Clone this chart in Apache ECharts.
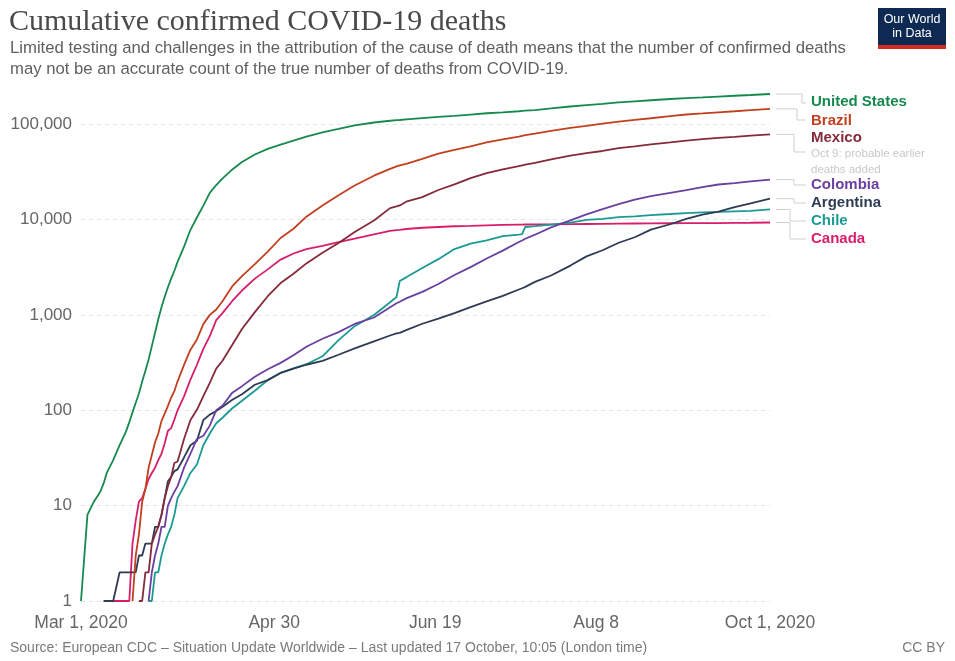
<!DOCTYPE html>
<html>
<head>
<meta charset="utf-8">
<script src="https://cdn.jsdelivr.net/npm/echarts@6/dist/echarts.min.js"></script>
<style>
html,body{margin:0;padding:0;background:#fff;}
#chart{width:955px;height:661px;}
</style>
</head>
<body>
<div id="chart"></div>
<script>
// ---------- DATA ----------
const dates = [
 '2020-03-01','2020-03-03','2020-03-05','2020-03-07','2020-03-08','2020-03-09','2020-03-11','2020-03-13','2020-03-15','2020-03-16',
 '2020-03-17','2020-03-18','2020-03-19','2020-03-20','2020-03-21','2020-03-22','2020-03-23','2020-03-24','2020-03-25','2020-03-26',
 '2020-03-27','2020-03-28','2020-03-29','2020-03-30','2020-03-31',
 '2020-04-02','2020-04-04','2020-04-06','2020-04-08','2020-04-10','2020-04-12','2020-04-14','2020-04-17','2020-04-20','2020-04-24','2020-04-28',
 '2020-05-02','2020-05-06','2020-05-10','2020-05-15','2020-05-20','2020-05-25','2020-05-31',
 '2020-06-05','2020-06-07','2020-06-08','2020-06-10','2020-06-15','2020-06-20','2020-06-25','2020-06-30',
 '2020-07-05','2020-07-10','2020-07-15','2020-07-16','2020-07-17','2020-07-20','2020-07-25','2020-07-31',
 '2020-08-05','2020-08-10','2020-08-15','2020-08-20','2020-08-25','2020-08-31',
 '2020-09-05','2020-09-10','2020-09-15','2020-09-20','2020-09-25','2020-10-01'
];

const unitedStates = [
 1,8,11,14,17,22,30,43,60,75,
 95,120,150,200,260,340,470,650,900,1200,
 1550,1950,2400,2900,3600,
 5200,7800,10500,14000,19000,23000,27000,33500,40000,48000,55000,
 61000,67000,74000,82000,89000,97000,104000,
 108500,110000,110500,112000,115500,119000,122000,126000,
 130000,133000,136500,137500,138500,140500,146000,153000,
 158000,163000,169000,173500,178000,183500,
 187500,190500,194500,198500,202000,207000
];
const brazil = [
 null,null,null,null,null,null,null,null,null,null,
 1,3,5,11,15,25,34,46,57,77,
 92,111,136,159,201,
 299,432,553,800,1000,1140,1400,2000,2550,3400,4600,
 6400,8000,10700,14000,18000,22700,28800,
 34000,36000,37000,38400,43300,49100,53800,58300,
 64300,69200,74100,75400,76700,79500,85200,91300,
 95800,101000,106500,111100,115300,121400,
 126200,129500,133100,136500,140500,144700
];
const mexico = [
 null,null,null,null,null,null,null,null,null,null,
 null,null,1,1,2,2,4,5,6,8,
 12,16,20,28,29,
 50,79,101,141,194,273,332,486,712,1069,1569,
 2154,2704,3465,4477,5666,7394,9779,
 13170,13699,14053,15357,17141,20394,23377,27121,
 30639,33526,36327,36906,37574,39184,42645,46688,
 49698,52298,55908,58481,61450,64414,
 67326,69649,71678,73493,75844,78078
];
const colombia = [
 null,null,null,null,null,null,null,null,null,null,
 null,null,null,null,null,1,2,3,4,6,
 6,10,12,14,16,
 25,35,50,54,69,100,112,153,179,225,269,
 314,378,463,562,659,803,939,
 1205,1323,1374,1488,1744,2106,2620,3166,
 3897,4714,5814,6029,6288,6929,8269,9810,
 11315,12842,14492,16183,17612,19064,
 20348,21817,23288,24039,25103,26196
];
const argentina = [
 null,null,null,null,1,1,1,2,2,2,
 2,2,3,3,4,4,4,6,6,8,
 12,18,20,23,24,
 32,43,48,79,90,98,109,129,147,185,207,
 246,273,300,329,382,445,528,
 608,639,648,693,807,913,1043,1207,
 1385,1582,1845,1903,1968,2220,2588,3288,
 4106,4764,5703,6517,7839,8919,
 10129,11263,12116,13482,14766,16519
];
const chile = [
 null,null,null,null,null,null,null,null,null,null,
 null,null,null,null,null,1,1,2,2,3,
 4,5,6,8,12,
 16,22,27,43,57,73,84,105,126,160,207,
 247,275,304,368,544,761,997,
 1356,1541,2264,2475,3101,3841,4903,5575,
 6051,6682,6951,7024,8347,8503,8838,9278,
 9889,10139,10578,10792,11132,11422,
 11682,11895,12040,12199,12345,12741
];
const canada = [
 null,null,null,null,null,1,1,1,1,1,
 4,7,11,12,15,19,22,25,30,35,
 45,61,65,80,100,
 140,210,300,440,600,880,1050,1400,1800,2400,3000,
 3800,4400,4900,5300,5800,6300,7000,
 7600,7750,7800,7950,8200,8350,8500,8570,
 8680,8780,8840,8850,8860,8880,8910,8940,
 8970,9000,9050,9080,9100,9140,
 9150,9160,9170,9230,9250,9300
];

const countryNames = ['United States','Brazil','Mexico','Colombia','Argentina','Chile','Canada'];
const countryValues = [unitedStates, brazil, mexico, colombia, argentina, chile, canada];
const xTickDates = ['2020-03-01','2020-04-30','2020-06-19','2020-08-08','2020-10-01'];
const xTickLabels = ['Mar 1, 2020','Apr 30','Jun 19','Aug 8','Oct 1, 2020'];
const yTickValues = [1,10,100,1000,10000,100000];
const annotationText = ['Oct 9: probable earlier','deaths added'];

const titleText = 'Cumulative confirmed COVID-19 deaths';
const subtitleLines = [
 'Limited testing and challenges in the attribution of the cause of death means that the number of confirmed deaths',
 'may not be an accurate count of the true number of deaths from COVID-19.'
];
const sourceText = 'Source: European CDC \u2013 Situation Update Worldwide \u2013 Last updated 17 October, 10:05 (London time)';

// ---------- STYLE / LAYOUT ----------
const colors = ['#16894f','#c1401f','#852a3a','#6b3fa0','#2d3b55','#1b9a94','#d81e6a'];
const labelY = [102,121,138,185,203,221,239];
const bendX = [802,797,794,794,794,790,790];
const connectorTargetY = [103,120,152,185,203,221,239];
const FONT = '"Liberation Sans", Arial, sans-serif';

const ts = s => { const p = s.split('-').map(Number); return Date.UTC(p[0], p[1]-1, p[2]); };
const xTickTs = xTickDates.map(ts);

const chart = echarts.init(document.getElementById('chart'), null, {renderer:'canvas'});

const series = countryNames.map((name, k) => ({
  name,
  type: 'line',
  data: dates.map((d, i) => [ts(d), countryValues[k][i]]).filter(p => p[1] != null),
  showSymbol: false,
  symbol: 'none',
  lineStyle: { color: colors[k], width: 1.8 },
  itemStyle: { color: colors[k] },
  z: 10 - k
}));

chart.setOption({
  animation: false,
  backgroundColor: '#fff',
  grid: { left: 81, right: 185, top: 94, bottom: 60, containLabel: false },
  xAxis: {
    type: 'value',
    min: ts('2020-03-01'),
    max: ts('2020-10-01'),
    axisLine: { show: false },
    axisTick: { show: false },
    splitLine: { show: false },
    axisLabel: {
      customValues: xTickTs,
      showMinLabel: true,
      showMaxLabel: true,
      hideOverlap: false,
      color: '#666',
      fontSize: 17.5,
      fontFamily: FONT,
      margin: 13,
      formatter: v => {
        for (let i = 0; i < xTickTs.length; i++) {
          if (Math.abs(xTickTs[i] - v) < 43200000) return xTickLabels[i];
        }
        return '';
      }
    }
  },
  yAxis: {
    type: 'log',
    logBase: 10,
    min: 1,
    max: 'dataMax',
    axisLine: { show: false },
    axisTick: { show: false },
    splitLine: { show: true, showMaxLine: false, lineStyle: { color: '#e2e2e2', type: [4, 4], width: 1 } },
    axisLabel: {
      color: '#666',
      fontSize: 17,
      fontFamily: FONT,
      margin: 9,
      showMaxLabel: false,
      formatter: v => {
        const r = Math.round(v);
        return yTickValues.indexOf(r) >= 0 ? r.toLocaleString('en-US') : '';
      }
    }
  },
  series
});

// ---------- Graphic: labels, connectors, title, footer, logo ----------
const graphics = [];
const labelX = 811;
countryNames.forEach((name, k) => {
  const arr = series[k].data;
  const last = arr[arr.length - 1];
  const p = chart.convertToPixel({ gridIndex: 0 }, last);
  const x0 = p[0] + 6, y0 = p[1];
  graphics.push({
    type: 'polyline',
    silent: true,
    shape: { points: [[x0, y0], [bendX[k], y0], [bendX[k], connectorTargetY[k]], [labelX - 5, connectorTargetY[k]]] },
    style: { stroke: '#cfcfcf', lineWidth: 1, fill: null }
  });
  graphics.push({
    type: 'text',
    silent: true,
    style: { text: name, x: labelX, y: labelY[k], fill: colors[k], fontSize: 15, fontWeight: 'bold', fontFamily: FONT, align: 'left', verticalAlign: 'middle' }
  });
});
annotationText.forEach((t, i) => {
  graphics.push({
    type: 'text', silent: true,
    style: { text: t, x: labelX, y: 154 + i * 16, fill: '#c8c8c8', fontSize: 11.5, fontFamily: FONT, align: 'left', verticalAlign: 'middle' }
  });
});
// Title
graphics.push({
  type: 'text', silent: true,
  style: { text: titleText, x: 9, y: 22, fill: '#4a4a4a', fontSize: 30, fontFamily: '"Liberation Serif", "DejaVu Serif", serif', align: 'left', verticalAlign: 'middle' }
});
subtitleLines.forEach((t, i) => {
  graphics.push({
    type: 'text', silent: true,
    style: { text: t, x: 10, y: 48 + i * 21, fill: '#5f5f5f', fontSize: 16.7, fontFamily: FONT, align: 'left', verticalAlign: 'middle' }
  });
});
// Footer
graphics.push({
  type: 'text', silent: true,
  style: { text: sourceText, x: 10, y: 648, fill: '#7a7a7a', fontSize: 14, fontFamily: FONT, align: 'left', verticalAlign: 'middle' }
});
graphics.push({
  type: 'text', silent: true,
  style: { text: 'CC BY', x: 945, y: 648, fill: '#7a7a7a', fontSize: 14, fontFamily: FONT, align: 'right', verticalAlign: 'middle' }
});
// Logo
graphics.push({ type: 'rect', silent: true, shape: { x: 878, y: 8, width: 68, height: 41 }, style: { fill: '#0f2a52' } });
graphics.push({ type: 'rect', silent: true, shape: { x: 878, y: 45, width: 68, height: 4 }, style: { fill: '#d42b21' } });
graphics.push({ type: 'text', silent: true, style: { text: 'Our World', x: 912, y: 20, fill: '#fff', fontSize: 12.5, fontFamily: FONT, align: 'center', verticalAlign: 'middle' } });
graphics.push({ type: 'text', silent: true, style: { text: 'in Data', x: 912, y: 34, fill: '#fff', fontSize: 12.5, fontFamily: FONT, align: 'center', verticalAlign: 'middle' } });

chart.setOption({ graphic: graphics });
</script>
</body>
</html>
